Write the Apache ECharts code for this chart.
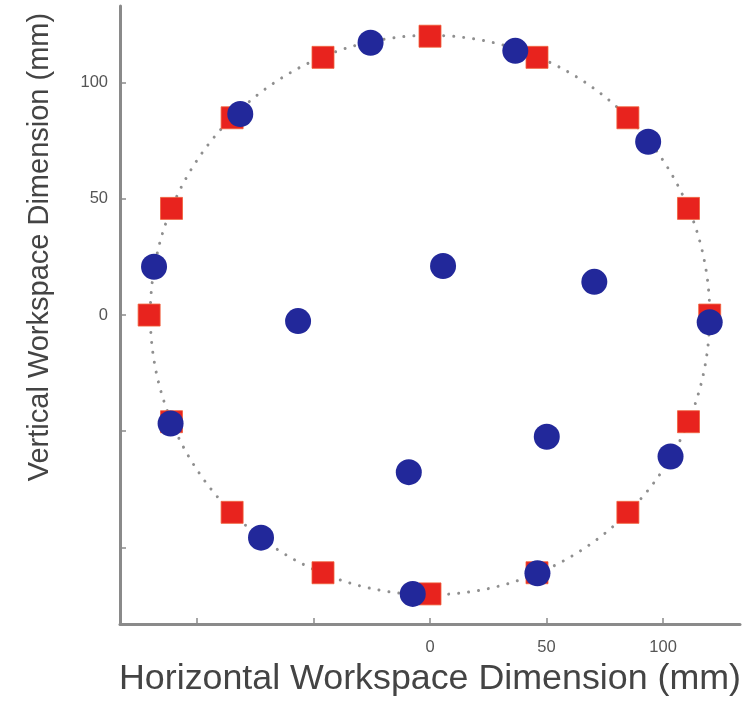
<!DOCTYPE html>
<html><head><meta charset="utf-8">
<script src="https://cdn.jsdelivr.net/npm/echarts@6/dist/echarts.min.js"></script>
<style>html,body{margin:0;padding:0;background:#fff}#c{width:747px;height:702px}</style>
</head><body><div id="c"></div>
<script>
// Target positions (red squares), mm
const targetX = [0, 45.9, 84.9, 110.9, 120, 110.9, 84.9, 45.9, 0, -45.9, -84.9, -110.9, -120.5, -110.9, -84.9, -45.9];
const targetY = [120, 110.9, 84.9, 45.9, 0, -45.9, -84.9, -110.9, -120, -110.9, -84.9, -45.9, 0, 45.9, 84.9, 110.9];
// Measured positions (blue circles), mm
const measuredX = [-25.5, 36.6, -81.4, 93.6, -118.4, 5.6, 70.5, -56.6, 120.0, -111.3, 50.1, 103.2, -9.1, -72.5, 46.1, -7.4];
const measuredY = [117.2, 113.7, 86.5, 74.6, 20.8, 21.1, 14.3, -2.6, -3.1, -46.7, -52.4, -60.9, -67.6, -95.8, -111.1, -120.0];
// Reference workspace circle (center x, center y, radius), mm
const workspaceCircle = [[0, 0, 120]];
const tickValues = [-100, -50, 0, 50, 100];
const labelValues = [0, 50, 100];
const axisMin = -133, axisMax = 133;

const targets = targetX.map((x, i) => [x, targetY[i]]);
const measured = measuredX.map((x, i) => [x, measuredY[i]]);

const axisCommon = {
  type: 'value', min: axisMin, max: axisMax,
  axisLine: { show: true, onZero: false, lineStyle: { color: '#8a8a8a', width: 3 } },
  axisTick: { show: true, inside: true, length: 6, customValues: tickValues, lineStyle: { color: '#8a8a8a', width: 1.5 } },
  axisLabel: { customValues: labelValues, color: '#555', fontSize: 16.5, fontFamily: 'Liberation Sans', margin: 12 },
  splitLine: { show: false },
  nameLocation: 'middle'
};

const chart = echarts.init(document.getElementById('c'), null, { renderer: 'canvas' });
chart.setOption({
  animation: false,
  backgroundColor: '#fff',
  grid: { left: 120, right: 7, top: 6, bottom: 75, containLabel: false },
  xAxis: Object.assign({}, axisCommon, {
    name: 'Horizontal Workspace Dimension (mm)', nameGap: 36,
    axisLabel: Object.assign({}, axisCommon.axisLabel, { margin: 15 }),
    nameTextStyle: { fontSize: 35.8, color: '#444', fontFamily: 'Liberation Sans' }
  }),
  yAxis: Object.assign({}, axisCommon, {
    name: 'Vertical Workspace Dimension (mm)', nameGap: 66,
    nameTextStyle: { fontSize: 29, color: '#444', fontFamily: 'Liberation Sans', padding: [0, 0, 0, 136] }
  }),
  series: [
    {
      type: 'custom', data: workspaceCircle, silent: true, z: 1, clip: false,
      renderItem: function (params, api) {
        const c = api.coord([api.value(0), api.value(1)]);
        const e = api.coord([api.value(0) + api.value(2), api.value(1)]);
        return {
          type: 'circle',
          shape: { cx: c[0], cy: c[1], r: e[0] - c[0] },
          style: { fill: 'none', stroke: '#8f8f8f', lineWidth: 3, lineDash: [0.01, 10], lineCap: 'round' }
        };
      }
    },
    { type: 'scatter', data: targets, symbol: 'rect', symbolSize: 22, z: 2,
      itemStyle: { color: '#e8231e', opacity: 1, borderColor: '#f0603a', borderWidth: 0.8 } },
    { type: 'scatter', data: measured, symbol: 'circle', symbolSize: 26, z: 3,
      itemStyle: { color: '#22289a', opacity: 1 } }
  ]
});
</script></body></html>
